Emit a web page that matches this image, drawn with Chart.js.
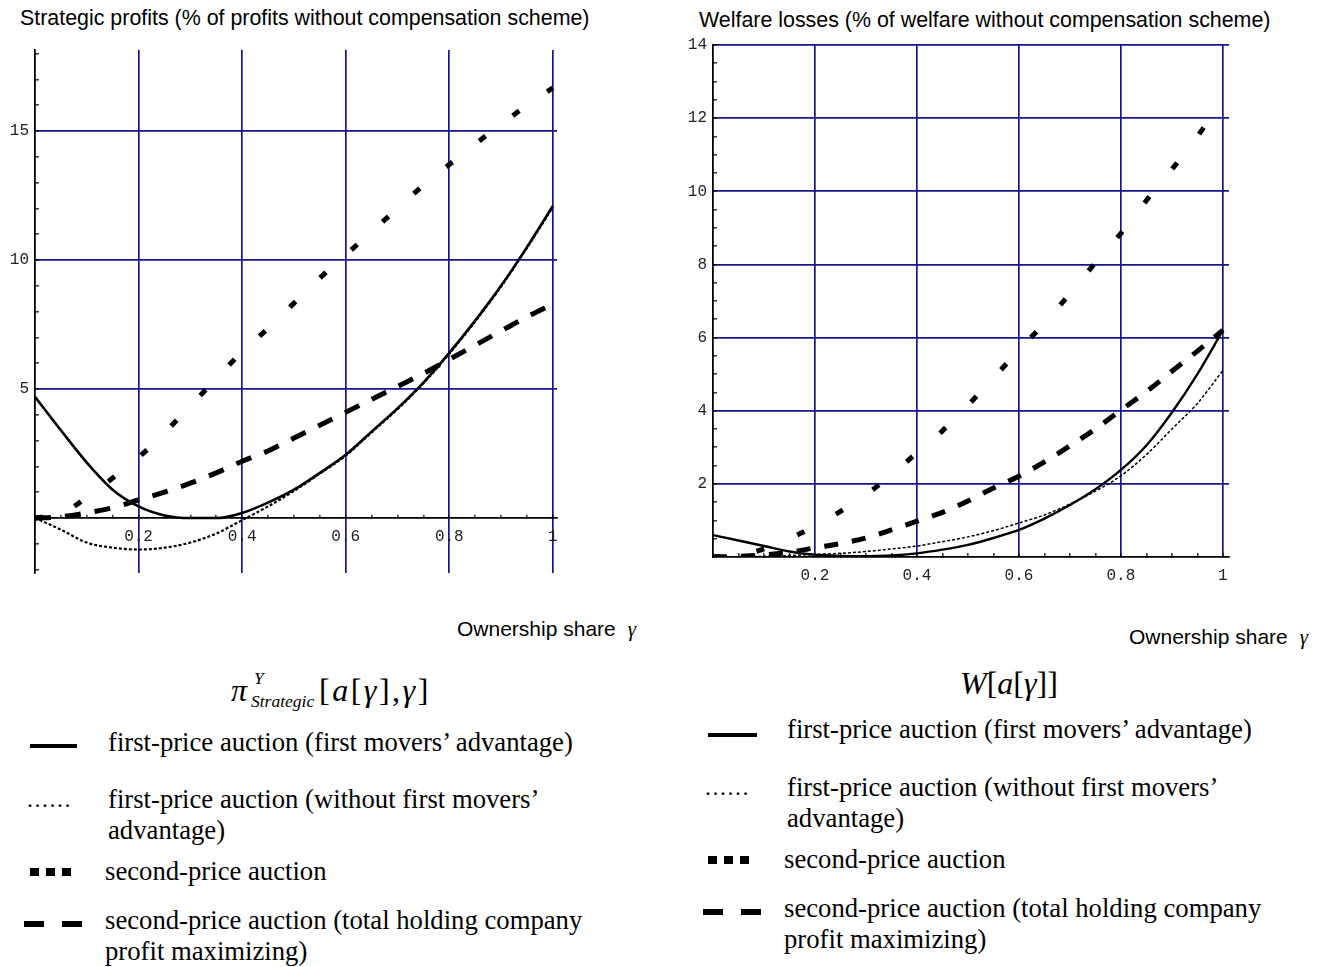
<!DOCTYPE html>
<html>
<head>
<meta charset="utf-8">
<script src="https://cdn.jsdelivr.net/npm/chart.js@4.4.1/dist/chart.umd.min.js"></script>
<style>
  body { margin:0; width:1329px; height:967px; background:#fff; position:relative; overflow:hidden;
         font-family:"Liberation Sans", Arial, sans-serif; color:#000; }
  .abs { position:absolute; white-space:nowrap; }
  .ttl { font-size:21.4px; line-height:24px; }
  .own { font-size:21px; line-height:24px; }
  .own i { font-family:"Liberation Serif", serif; font-size:21px; margin-left:12px; }
  .leg { font-family:"Liberation Serif", serif; font-size:26.7px; line-height:31px; }
  .math { font-family:"Liberation Serif", serif; font-size:32px; line-height:36px; }
  .small { font-family:"Liberation Serif", serif; font-size:17.5px; line-height:18px; font-style:italic; }
  .bar { position:absolute; background:#000; }
  canvas { position:absolute; }
</style>
</head>
<body>

<div class="abs ttl" style="left:20px; top:6px">Strategic profits (% of profits without compensation scheme)</div>
<div class="abs ttl" style="left:699px; top:8px">Welfare losses (% of welfare without compensation scheme)</div>

<canvas id="profits" width="580" height="563" style="left:0px; top:30px"></canvas>
<canvas id="welfare" width="669" height="585" style="left:660px; top:25px"></canvas>

<div class="abs own" style="left:457px; top:617px">Ownership share<i>γ</i></div>
<div class="abs own" style="left:1129px; top:625px">Ownership share<i>γ</i></div>

<!-- formulas -->
<div class="abs math" style="left:231px; top:672px"><i>π</i></div>
<div class="abs small" style="left:254px; top:669px">Y</div>
<div class="abs small" style="left:251px; top:692px">Strategic</div>
<div class="abs math" style="left:319px; top:672px; letter-spacing:2.5px">[<i>a</i>[<i>γ</i>],<i>γ</i>]</div>
<div class="abs math" style="left:960px; top:665px"><i>W</i>[<i>a</i>[<i>γ</i>]]</div>

<!-- left legend -->
<div class="bar" style="left:30px; top:744px; width:47px; height:4px"></div>
<div class="abs leg" style="left:108px; top:727px">first-price auction (first movers’ advantage)</div>
<div class="abs leg" style="left:27px; top:784px; font-size:24px; letter-spacing:1.5px">......</div>
<div class="abs leg" style="left:108px; top:784px">first-price auction (without first movers’<br>advantage)</div>
<div class="bar" style="left:30px; top:868px; width:9px; height:8px"></div>
<div class="bar" style="left:46px; top:868px; width:9px; height:8px"></div>
<div class="bar" style="left:62px; top:868px; width:9px; height:8px"></div>
<div class="abs leg" style="left:105px; top:856px">second-price auction</div>
<div class="bar" style="left:24px; top:921px; width:20px; height:6px"></div>
<div class="bar" style="left:62px; top:921px; width:20px; height:6px"></div>
<div class="abs leg" style="left:105px; top:905px">second-price auction (total holding company<br>profit maximizing)</div>

<!-- right legend -->
<div class="bar" style="left:708px; top:733px; width:49px; height:4px"></div>
<div class="abs leg" style="left:787px; top:714px">first-price auction (first movers’ advantage)</div>
<div class="abs leg" style="left:705px; top:772px; font-size:24px; letter-spacing:1.5px">......</div>
<div class="abs leg" style="left:787px; top:772px">first-price auction (without first movers’<br>advantage)</div>
<div class="bar" style="left:708px; top:856px; width:9px; height:8px"></div>
<div class="bar" style="left:724px; top:856px; width:9px; height:8px"></div>
<div class="bar" style="left:740px; top:856px; width:9px; height:8px"></div>
<div class="abs leg" style="left:784px; top:844px">second-price auction</div>
<div class="bar" style="left:703px; top:909px; width:20px; height:6px"></div>
<div class="bar" style="left:741px; top:909px; width:20px; height:6px"></div>
<div class="abs leg" style="left:784px; top:893px">second-price auction (total holding company<br>profit maximizing)</div>

<script>
// ----- data -----
const gamma = [0, 0.05, 0.1, 0.15, 0.2, 0.25, 0.3, 0.35, 0.4, 0.45, 0.5,
               0.55, 0.6, 0.65, 0.7, 0.75, 0.8, 0.85, 0.9, 0.95, 1];

// strategic profits
const profitFirstAdv    = [4.7, 3.4, 2.15, 1.1, 0.45, 0.1, 0, 0, 0.2, 0.6, 1.1, 1.75, 2.45, 3.35, 4.25, 5.25, 6.4, 7.65, 9.0, 10.5, 12.1];
const profitFirstNoAdv  = [0, -0.45, -0.95, -1.15, -1.22, -1.15, -0.95, -0.6, -0.08, 0.45, 1.05, 1.72, 2.42, 3.32, 4.22, 5.22, 6.37, 7.62, 8.97, 10.47, 12.05];
const profitSecond      = [0, 0.15, 0.8, 1.55, 2.35, 3.3, 4.35, 5.4, 6.45, 7.35, 8.33, 9.3, 10.2, 11.1, 12.0, 12.9, 13.7, 14.5, 15.25, 16.0, 16.67];
const profitSecondTotal = [0, 0.05, 0.2, 0.4, 0.7, 1.0, 1.35, 1.75, 2.2, 2.6, 3.1, 3.6, 4.1, 4.6, 5.1, 5.6, 6.15, 6.7, 7.25, 7.8, 8.3];

// welfare losses
const welfareFirstAdv    = [0.6, 0.45, 0.3, 0.15, 0.06, 0.03, 0.02, 0.04, 0.1, 0.2, 0.33, 0.52, 0.74, 1.05, 1.42, 1.85, 2.38, 3.05, 3.95, 5.0, 6.2];
const welfareFirstNoAdv  = [0, 0.01, 0.02, 0.04, 0.07, 0.1, 0.15, 0.22, 0.3, 0.42, 0.55, 0.72, 0.93, 1.15, 1.45, 1.8, 2.22, 2.8, 3.5, 4.2, 5.1];
const welfareSecond      = [0, 0.05, 0.22, 0.5, 0.85, 1.25, 1.7, 2.25, 2.85, 3.45, 4.15, 4.9, 5.65, 6.4, 7.2, 8.05, 8.85, 9.75, 10.6, 11.5, 12.5];
const welfareSecondTotal = [0, 0.02, 0.06, 0.13, 0.25, 0.37, 0.52, 0.74, 0.98, 1.22, 1.53, 1.89, 2.21, 2.6, 3.04, 3.5, 4.02, 4.52, 5.08, 5.63, 6.2];

// tick labels
const xTickLabels = [0.2, 0.4, 0.6, 0.8, 1];
const profitYTicks = [5, 10, 15];
const welfareYTicks = [2, 4, 6, 8, 10, 12, 14];

// minor tick positions
const profitYMinor = [];
for (let v = -2; v <= 18; v++) profitYMinor.push(v);
const welfareYMinor = [];
for (let v = 0; v <= 28; v++) welfareYMinor.push(v / 2);

const BLUE = '#16168f';
const isMajor = (v, list) => list.some(m => Math.abs(m - v) < 1e-6);
const pts = arr => gamma.map((g, i) => ({ x: g, y: arr[i] }));

function series(arr, width, dash) {
  return {
    data: pts(arr), borderColor: '#000', borderWidth: width, borderDash: dash,
    borderCapStyle: 'butt', pointRadius: 0, cubicInterpolationMode: 'monotone', fill: false
  };
}

const tickFont = { family: 'Liberation Mono', size: 16 };

function makeChart(id, sets, cfg) {
  return new Chart(document.getElementById(id), {
    type: 'line',
    data: { datasets: sets },
    options: {
      responsive: false, animation: false, devicePixelRatio: 1,
      layout: { padding: cfg.padding },
      plugins: { legend: { display: false }, tooltip: { enabled: false } },
      scales: {
        x: {
          type: 'linear', min: 0, max: cfg.xMax, position: cfg.xPos,
          afterBuildTicks: s => { s.ticks = gamma.map(v => ({ value: v })); },
          afterFit: s => { s.height = 30; },
          grid: {
            color: c => isMajor(c.tick.value, xTickLabels) ? BLUE : 'rgba(0,0,0,0)',
            lineWidth: 1.7, tickColor: '#000', tickLength: -4, tickWidth: 1.2
          },
          border: { color: '#000', width: 1.8 },
          ticks: {
            autoSkip: false, maxRotation: 0, padding: 13, font: tickFont, color: '#222',
            callback: v => isMajor(v, xTickLabels) ? String(v) : ''
          }
        },
        y: {
          type: 'linear', min: cfg.yMin, max: cfg.yMax,
          afterBuildTicks: s => { s.ticks = cfg.yMinor.map(v => ({ value: v })); },
          afterFit: s => { s.width = cfg.yWidth; },
          grid: {
            color: c => isMajor(c.tick.value, cfg.yTicks) ? BLUE : 'rgba(0,0,0,0)',
            lineWidth: 1.7, tickColor: '#000', tickLength: -4, tickWidth: 1.2
          },
          border: { color: '#000', width: 1.8 },
          ticks: {
            autoSkip: false, padding: 10, font: tickFont, color: '#222',
            callback: v => isMajor(v, cfg.yTicks) ? String(v) : ''
          }
        }
      }
    }
  });
}

// chart area: x 35..557, y 50..573 on the page
makeChart('profits', [
  series(profitFirstAdv, 2.6, []),
  series(profitFirstNoAdv, 2.2, [3, 2]),
  series(profitSecond, 5, [8, 34]),
  series(profitSecondTotal, 5, [16, 14])
], {
  padding: { left: 0, top: 20, right: 23, bottom: 20 },
  xMax: 1.008, xPos: { y: 0 }, yMin: -2.13, yMax: 18.14,
  yMinor: profitYMinor, yTicks: profitYTicks, yWidth: 35
});

// chart area: x 713..1229, y 45..557 on the page
makeChart('welfare', [
  series(welfareFirstAdv, 2.4, []),
  series(welfareFirstNoAdv, 1.5, [3, 2]),
  series(welfareSecond, 5, [8, 36]),
  series(welfareSecondTotal, 5, [14, 14])
], {
  padding: { left: 0, top: 20, right: 100, bottom: 23 },
  xMax: 1.012, xPos: 'bottom', yMin: 0, yMax: 14,
  yMinor: welfareYMinor, yTicks: welfareYTicks, yWidth: 53
});
</script>
</body>
</html>
